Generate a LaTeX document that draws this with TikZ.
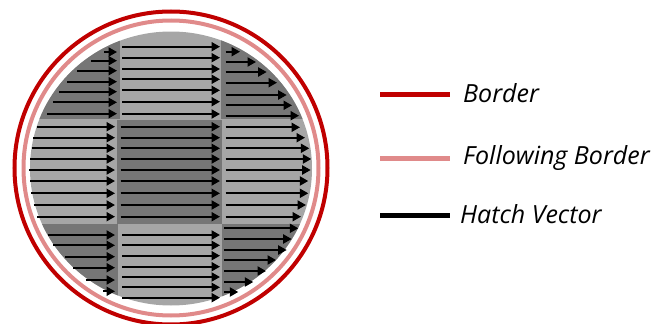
\documentclass[tikz,border=0pt]{standalone}
\usepackage{fontspec}
\setmainfont{Open Sans}
\usetikzlibrary{arrows.meta}
\definecolor{brdr}{HTML}{C00000}
\definecolor{fbrdr}{HTML}{E08A8A}
\definecolor{lcell}{HTML}{A6A6A6}
\definecolor{dcell}{HTML}{767676}
\begin{document}
\begin{tikzpicture}[x=1pt,y=-1pt,hatch/.style = {draw=black,line width=2pt,-{Triangle[length=8.5pt,width=9pt]}},key/.style = {line width=5pt},keytxt/.style = {anchor=west,inner sep=0pt,font=\itshape\fontsize{25}{30}\selectfont}]
\useasboundingbox (0,0) rectangle (654,324);
%cells
\begin{scope}
\clip (171,168.5) ellipse [x radius=141,y radius=137];
\fill[lcell] (0,0) rectangle (340,324);
\foreach \xa/\ya/\xb/\yb in {0/0/119.5/118.5, 220.7/0/340/118.5, 117/119.5/222/224, 0/224/118/324, 222/224/340/324}
\fill[dcell] (\xa,\ya) rectangle (\xb,\yb);
\end{scope}
%borders
\draw[brdr,line width=4pt] (171,168) circle (156.5);
\draw[fbrdr,line width=4pt] (171,168) circle (147.5);
%hatch vectors
\foreach \xa/\yy in {104/52,91/60.7,77/70.7,67/81.7,59/91.7,53/102.3,47/113.7}
\draw[hatch] (\xa,\yy) -- (117,\yy);
\foreach \yy in {46.7,57.7,69,79.3,90.3,101.7,114}
\draw[hatch] (122,\yy) -- (220,\yy);
\foreach \xb/\yy in {240/51.7,256/62,266.7/72,277/82.7,286.7/95,292/105.3,299/115.7}
\draw[hatch] (225.7,\yy) -- (\xb,\yy);
\foreach \xa/\yy in {36.7/126.7,33.3/137.7,31.7/148.3,30/159,29.3/170,30/181,31.3/193.3,33.7/205,37.3/216.7}
\draw[hatch] (\xa,\yy) -- (115,\yy);
\foreach \yy in {126.7,137.7,148.3,159,170,181,193.3,205,216.7}
\draw[hatch] (120.7,\yy) -- (220,\yy);
\foreach \xb/\yy in {300/127.3,305/137.7,309.3/148.3,311.3/159,310.7/170,308.3/181,308.3/193.3,306/205,301/216.7}
\draw[hatch] (225.5,\yy) -- (\xb,\yy);
\foreach \xa/\yy in {47.7/235,53.3/245.3,65/256.7,73.3/267.7,85.7/280,103.3/291.3}
\draw[hatch] (\xa,\yy) -- (115,\yy);
\foreach \yy in {235,245.3,255.7,266.7,277,287.3,297.7}
\draw[hatch] (122,\yy) -- (220,\yy);
\foreach \xb/\yy in {298.3/228.3,291.7/239,286.7/250,276/260,266/271,253.3/282,238.3/292}
\draw[hatch] (224,\yy) -- (\xb,\yy);
%legend
\coordinate (b1) at (380,94);
\coordinate (b2) at (450,94);
\coordinate (f1) at (380,158);
\coordinate (f2) at (450,158);
\coordinate (h1) at (380,215);
\coordinate (h2) at (450,215);
\node (tb) [keytxt] at (463,93) {Border};
\node (tf) [keytxt] at (463,158) {Following Border};
\node (th) [keytxt] at (460,214) {Hatch Vector};
\draw[key,brdr] (b1) -- (b2);
\draw[key,fbrdr] (f1) -- (f2);
\draw[key,black] (h1) -- (h2);
\end{tikzpicture}
\end{document}
